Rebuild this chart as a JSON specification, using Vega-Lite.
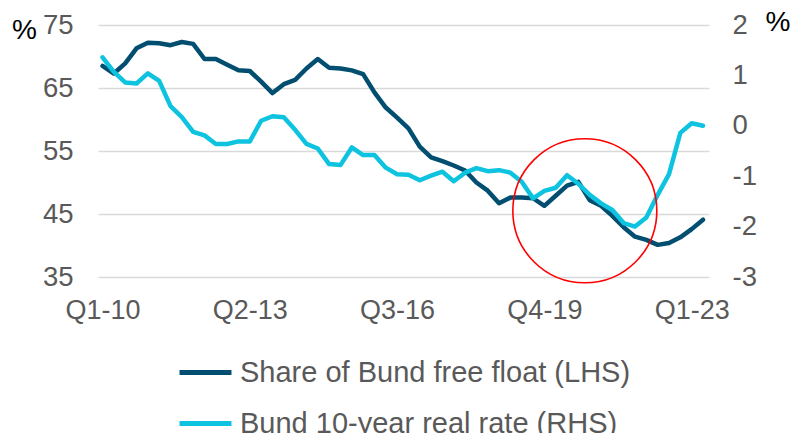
{
  "$schema": "https://vega.github.io/schema/vega-lite/v6.json",
  "width": 611,
  "height": 252,
  "autosize": {"type": "none"},
  "padding": {"left": 98, "top": 25, "right": 83, "bottom": 156},
  "background": "white",
  "config": {"view": {"stroke": null}, "font": "Liberation Sans"},
  "data": {"values": [
    {"t": 0, "q": "Q1-10", "share": 68.5, "real": 1.36},
    {"t": 1, "q": "Q2-10", "share": 67.3, "real": 1.07},
    {"t": 2, "q": "Q3-10", "share": 68.9, "real": 0.86},
    {"t": 3, "q": "Q4-10", "share": 71.3, "real": 0.84},
    {"t": 4, "q": "Q1-11", "share": 72.2, "real": 1.04},
    {"t": 5, "q": "Q2-11", "share": 72.1, "real": 0.89},
    {"t": 6, "q": "Q3-11", "share": 71.8, "real": 0.39},
    {"t": 7, "q": "Q4-11", "share": 72.3, "real": 0.17},
    {"t": 8, "q": "Q1-12", "share": 72.0, "real": -0.12},
    {"t": 9, "q": "Q2-12", "share": 69.6, "real": -0.19},
    {"t": 10, "q": "Q3-12", "share": 69.6, "real": -0.36},
    {"t": 11, "q": "Q4-12", "share": 68.7, "real": -0.36},
    {"t": 12, "q": "Q1-13", "share": 67.8, "real": -0.31},
    {"t": 13, "q": "Q2-13", "share": 67.7, "real": -0.31},
    {"t": 14, "q": "Q3-13", "share": 66.0, "real": 0.1},
    {"t": 15, "q": "Q4-13", "share": 64.2, "real": 0.19},
    {"t": 16, "q": "Q1-14", "share": 65.6, "real": 0.17},
    {"t": 17, "q": "Q2-14", "share": 66.3, "real": -0.08},
    {"t": 18, "q": "Q3-14", "share": 68.1, "real": -0.36},
    {"t": 19, "q": "Q4-14", "share": 69.6, "real": -0.45},
    {"t": 20, "q": "Q1-15", "share": 68.2, "real": -0.76},
    {"t": 21, "q": "Q2-15", "share": 68.1, "real": -0.78},
    {"t": 22, "q": "Q3-15", "share": 67.8, "real": -0.43},
    {"t": 23, "q": "Q4-15", "share": 67.2, "real": -0.58},
    {"t": 24, "q": "Q1-16", "share": 64.3, "real": -0.58},
    {"t": 25, "q": "Q2-16", "share": 61.9, "real": -0.83},
    {"t": 26, "q": "Q3-16", "share": 60.3, "real": -0.96},
    {"t": 27, "q": "Q4-16", "share": 58.6, "real": -0.97},
    {"t": 28, "q": "Q1-17", "share": 55.7, "real": -1.08},
    {"t": 29, "q": "Q2-17", "share": 54.0, "real": -0.99},
    {"t": 30, "q": "Q3-17", "share": 53.4, "real": -0.91},
    {"t": 31, "q": "Q4-17", "share": 52.7, "real": -1.1},
    {"t": 32, "q": "Q1-18", "share": 51.9, "real": -0.93},
    {"t": 33, "q": "Q2-18", "share": 50.0, "real": -0.84},
    {"t": 34, "q": "Q3-18", "share": 48.7, "real": -0.9},
    {"t": 35, "q": "Q4-18", "share": 46.7, "real": -0.88},
    {"t": 36, "q": "Q1-19", "share": 47.6, "real": -0.93},
    {"t": 37, "q": "Q2-19", "share": 47.6, "real": -1.11},
    {"t": 38, "q": "Q3-19", "share": 47.5, "real": -1.44},
    {"t": 39, "q": "Q4-19", "share": 46.3, "real": -1.29},
    {"t": 40, "q": "Q1-20", "share": 47.9, "real": -1.23},
    {"t": 41, "q": "Q2-20", "share": 49.5, "real": -0.98},
    {"t": 42, "q": "Q3-20", "share": 50.1, "real": -1.15},
    {"t": 43, "q": "Q4-20", "share": 47.2, "real": -1.37},
    {"t": 44, "q": "Q1-21", "share": 46.3, "real": -1.54},
    {"t": 45, "q": "Q2-21", "share": 44.7, "real": -1.67},
    {"t": 46, "q": "Q3-21", "share": 42.9, "real": -1.93},
    {"t": 47, "q": "Q4-21", "share": 41.4, "real": -2.0},
    {"t": 48, "q": "Q1-22", "share": 40.9, "real": -1.82},
    {"t": 49, "q": "Q2-22", "share": 40.1, "real": -1.37},
    {"t": 50, "q": "Q3-22", "share": 40.4, "real": -0.96},
    {"t": 51, "q": "Q4-22", "share": 41.3, "real": -0.14},
    {"t": 52, "q": "Q1-23", "share": 42.6, "real": 0.05},
    {"t": 53, "q": "Q2-23", "share": 44.1, "real": 0.0}
  ]},
  "encoding": {
    "x": {
      "field": "t",
      "type": "quantitative",
      "scale": {"domain": [-0.4, 53.53], "nice": false, "zero": false},
      "axis": {
        "values": [0, 13, 26, 39, 52],
        "labelExpr": "'Q' + (datum.value % 4 + 1) + '-' + (10 + floor(datum.value / 4))",
        "title": null,
        "domain": false,
        "ticks": false,
        "grid": false,
        "labelFont": "Liberation Sans",
        "labelFontSize": 27,
        "labelColor": "#595959",
        "labelPadding": 20
      }
    }
  },
  "layer": [
    {
      "mark": {"type": "line", "strokeWidth": 4.5, "strokeJoin": "round", "strokeCap": "round"},
      "encoding": {
        "y": {
          "field": "share",
          "type": "quantitative",
          "scale": {"domain": [35, 75], "nice": false, "zero": false},
          "axis": {
            "values": [35, 45, 55, 65, 75],
            "title": "%",
            "titleAngle": 0,
            "titleX": -74,
            "titleY": 13.5,
            "titleAlign": "center",
            "titleBaseline": "alphabetic",
            "titleFont": "Liberation Sans",
            "titleFontSize": 28,
            "titleFontWeight": "normal",
            "titleColor": "#000000",
            "grid": true,
            "gridColor": "#D9D9D9",
            "gridWidth": 1.5,
            "domain": false,
            "ticks": false,
            "labelFont": "Liberation Sans",
            "labelFontSize": 27.5,
            "labelColor": "#595959",
            "labelPadding": 25
          }
        },
        "color": {
          "datum": "Share of Bund free float (LHS)",
          "scale": {
            "domain": ["Share of Bund free float (LHS)", "Bund 10-year real rate (RHS)"],
            "range": ["#024E70", "#0DC3E0"]
          },
          "legend": {
            "orient": "none",
            "legendX": 79,
            "legendY": 319,
            "direction": "vertical",
            "title": null,
            "labelFont": "Liberation Sans",
            "labelFontSize": 29,
            "labelColor": "#595959",
            "labelLimit": 600,
            "symbolType": "stroke",
            "symbolStrokeWidth": 5,
            "symbolSize": 2700,
            "labelOffset": 6,
            "rowPadding": 7
          }
        }
      }
    },
    {
      "mark": {"type": "line", "strokeWidth": 4.5, "strokeJoin": "round", "strokeCap": "round"},
      "encoding": {
        "y": {
          "field": "real",
          "type": "quantitative",
          "scale": {"domain": [-3, 2], "nice": false, "zero": false},
          "axis": {
            "orient": "right",
            "values": [-3, -2, -1, 0, 1, 2],
            "labelExpr": "datum.value + ''",
            "title": "%",
            "titleAngle": 0,
            "titleX": 68.5,
            "titleY": 5,
            "titleAlign": "center",
            "titleBaseline": "alphabetic",
            "titleFont": "Liberation Sans",
            "titleFontSize": 28,
            "titleFontWeight": "normal",
            "titleColor": "#000000",
            "grid": false,
            "domain": false,
            "ticks": false,
            "labelFont": "Liberation Sans",
            "labelFontSize": 27.5,
            "labelColor": "#595959",
            "labelPadding": 23
          }
        },
        "color": {"datum": "Bund 10-year real rate (RHS)"}
      }
    },
    {
      "data": {"values": [{"t": 42.57, "share": 45.51}]},
      "mark": {"type": "point", "shape": "circle", "filled": false, "color": "#FF0000", "strokeWidth": 1.6, "opacity": 1, "size": 20736},
      "encoding": {
        "y": {
          "field": "share",
          "type": "quantitative",
          "scale": {"domain": [35, 75], "nice": false, "zero": false},
          "axis": null
        }
      }
    }
  ],
  "resolve": {"scale": {"y": "independent"}}
}
